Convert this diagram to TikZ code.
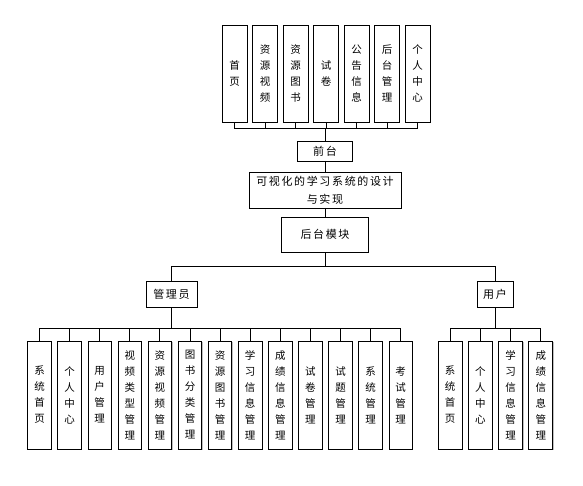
\documentclass[tikz,border=0pt]{standalone}
\usepackage{fontspec}
\setmainfont{Noto Sans CJK SC}
\newfontfamily\cjk[LetterSpace=15]{Noto Sans CJK SC}
\usepackage{tikz}
\usetikzlibrary{shapes,arrows,positioning,calc,shadows}

\begin{document}
\begin{tikzpicture}[x=1pt,y=-1pt,
    box/.style={draw,fill=white,inner sep=0pt,outer sep=0pt,line width=0.9pt,
      drop shadow={shadow xshift=0.9pt,shadow yshift=-0.9pt,fill=gray!50,opacity=1},
      font=\cjk\fontsize{11}{18}\selectfont,align=center},
    topbox/.style={box,minimum width=25pt,minimum height=97pt,
      font=\cjk\fontsize{10.5}{16}\selectfont},
    subbox/.style={box,minimum width=23.5pt,minimum height=108pt,
      font=\cjk\fontsize{10.5}{16}\selectfont},
    link/.style={line width=0.9pt}]
      \useasboundingbox (0,0) rectangle (583,486);

      % front end
      \node[topbox] at (234.5,73.5)(f1){首\\页};
      \node[topbox,right=5.5pt of f1](f2){资\\源\\视\\频};
      \node[topbox,right=5.5pt of f2](f3){资\\源\\图\\书};
      \node[topbox,right=5.5pt of f3](f4){试\\卷};
      \node[topbox,right=5.5pt of f4](f5){公\\告\\信\\息};
      \node[topbox,right=5.5pt of f5](f6){后\\台\\管\\理};
      \node[topbox,right=5.5pt of f6](f7){个\\人\\中\\心};

      \node[box,minimum width=55pt,minimum height=20pt] at (325,151)(qt){前台};
      \node[box,minimum width=152pt,minimum height=36pt] at (325,190)(sys){可视化的学习系统的设计\\与实现};
      \node[box,minimum width=87pt,minimum height=35pt] at (325,234.5)(ht){后台模块};

      \node[box,minimum width=51pt,minimum height=26pt] at (171.5,294)(gly){管理员};
      \node[box,minimum width=36pt,minimum height=26pt] at (495,294)(yh){用户};

      % admin
      \node[subbox] at (39.5,395)(a1){系\\统\\首\\页};
      \node[subbox,right=6.6pt of a1](a2){个\\人\\中\\心};
      \node[subbox,right=6.6pt of a2](a3){用\\户\\管\\理};
      \node[subbox,right=6.6pt of a3](a4){视\\频\\类\\型\\管\\理};
      \node[subbox,right=6.6pt of a4](a5){资\\源\\视\\频\\管\\理};
      \node[subbox,right=6.6pt of a5](a6){图\\书\\分\\类\\管\\理};
      \node[subbox,right=6.6pt of a6](a7){资\\源\\图\\书\\管\\理};
      \node[subbox,right=6.6pt of a7](a8){学\\习\\信\\息\\管\\理};
      \node[subbox,right=6.6pt of a8](a9){成\\绩\\信\\息\\管\\理};
      \node[subbox,right=6.6pt of a9](a10){试\\卷\\管\\理};
      \node[subbox,right=6.6pt of a10](a11){试\\题\\管\\理};
      \node[subbox,right=6.6pt of a11](a12){系\\统\\管\\理};
      \node[subbox,right=6.6pt of a12](a13){考\\试\\管\\理};

      % user
      \node[subbox,minimum width=24pt] at (450,395)(u1){系\\统\\首\\页};
      \node[subbox,minimum width=24pt,right=6.3pt of u1](u2){个\\人\\中\\心};
      \node[subbox,minimum width=24pt,right=6.3pt of u2](u3){学\\习\\信\\息\\管\\理};
      \node[subbox,minimum width=24pt,right=6.3pt of u3](u4){成\\绩\\信\\息\\管\\理};

      \draw[link] (qt.north) -- ++(0,-13) -| (f1.south);
      \draw[link] (qt.north) -- ++(0,-13) -| (f2.south);
      \draw[link] (qt.north) -- ++(0,-13) -| (f3.south);
      \draw[link] (qt.north) -- ++(0,-13) -| (f4.south);
      \draw[link] (qt.north) -- ++(0,-13) -| (f5.south);
      \draw[link] (qt.north) -- ++(0,-13) -| (f6.south);
      \draw[link] (qt.north) -- ++(0,-13) -| (f7.south);
      \draw[link] (qt) -- (sys);
      \draw[link] (sys) -- (ht);
      \draw[link] (ht.south) -- ++(0,14) -| (gly.north);
      \draw[link] (ht.south) -- ++(0,14) -| (yh.north);

      \draw[link] (gly.south) -- ++(0,21) -| (a1.north);
      \draw[link] (gly.south) -- ++(0,21) -| (a2.north);
      \draw[link] (gly.south) -- ++(0,21) -| (a3.north);
      \draw[link] (gly.south) -- ++(0,21) -| (a4.north);
      \draw[link] (gly.south) -- ++(0,21) -| (a5.north);
      \draw[link] (gly.south) -- ++(0,21) -| (a6.north);
      \draw[link] (gly.south) -- ++(0,21) -| (a7.north);
      \draw[link] (gly.south) -- ++(0,21) -| (a8.north);
      \draw[link] (gly.south) -- ++(0,21) -| (a9.north);
      \draw[link] (gly.south) -- ++(0,21) -| (a10.north);
      \draw[link] (gly.south) -- ++(0,21) -| (a11.north);
      \draw[link] (gly.south) -- ++(0,21) -| (a12.north);
      \draw[link] (gly.south) -- ++(0,21) -| (a13.north);

      \draw[link] (yh.south) -- ++(0,21) -| (u1.north);
      \draw[link] (yh.south) -- ++(0,21) -| (u2.north);
      \draw[link] (yh.south) -- ++(0,21) -| (u3.north);
      \draw[link] (yh.south) -- ++(0,21) -| (u4.north);

    \end{tikzpicture}
\end{document}
